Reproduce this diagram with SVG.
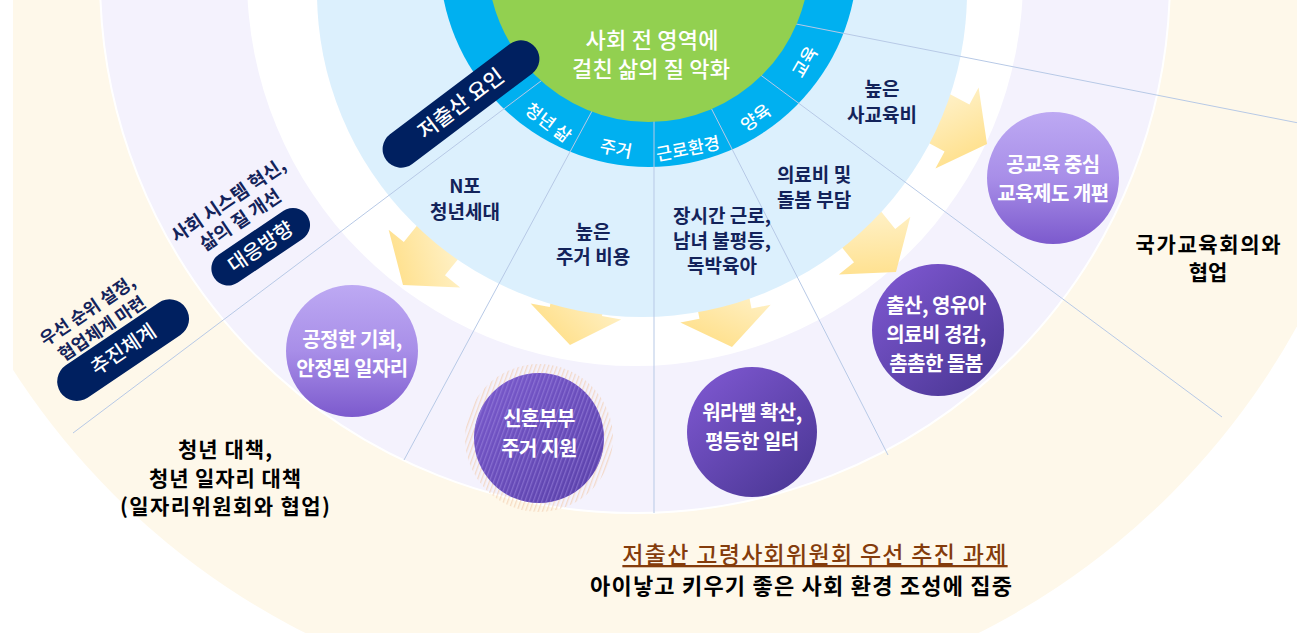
<svg xmlns="http://www.w3.org/2000/svg" width="1297" height="633" viewBox="0 0 1297 633">
<defs>
<style>
text{font-family:"Noto Sans CJK KR","Noto Sans",sans-serif}
.ring{font-size:17.5px;fill:#fff;font-weight:500;text-anchor:middle}
.cause{font-size:19px;fill:#13235a;font-weight:700;text-anchor:middle}
.circ{font-size:20px;fill:#fff;font-weight:700;text-anchor:middle;letter-spacing:-0.5px}
.side{font-size:18.5px;fill:#13235a;font-weight:700;text-anchor:middle}
.pilltxt{font-size:20px;fill:#fff;font-weight:500;text-anchor:middle}
.blk{font-size:21px;fill:#000;font-weight:700;text-anchor:middle}
.rad{stroke:#b7c9e6;stroke-width:1;fill:none}
.pill{fill:#002060}
.arrow{fill:url(#gArrow)}
</style>
<clipPath id="clipL"><rect x="13" y="0" width="1284" height="633"/></clipPath>
<linearGradient id="gArrow" x1="0.2" y1="0" x2="1" y2="0.7">
<stop offset="0" stop-color="#FFF4D2"/><stop offset="1" stop-color="#FFDF88"/>
</linearGradient>
<linearGradient id="gLight" x1="0" y1="0" x2="0" y2="1">
<stop offset="0" stop-color="#BDA9F3"/><stop offset="0.5" stop-color="#A88EE8"/><stop offset="1" stop-color="#7C5ACD"/>
</linearGradient>
<linearGradient id="gDark" x1="0.15" y1="0.1" x2="0.9" y2="0.95">
<stop offset="0" stop-color="#7A55CC"/><stop offset="1" stop-color="#4B3795"/>
</linearGradient>
<linearGradient id="gMid" x1="0.15" y1="0.1" x2="0.9" y2="0.95">
<stop offset="0" stop-color="#7657C9"/><stop offset="1" stop-color="#5A41AA"/>
</linearGradient>
<pattern id="hatchP" width="4" height="4" patternUnits="userSpaceOnUse" patternTransform="rotate(20)">
<rect x="0" y="0" width="1.3" height="4" fill="#9E87E0" fill-opacity="0.55"/>
</pattern>
<pattern id="hatchO" width="4" height="4" patternUnits="userSpaceOnUse" patternTransform="rotate(20)">
<rect x="0" y="0" width="1.3" height="4" fill="#F2C9A8" fill-opacity="0.6"/>
</pattern>
<path id="arr" d="M-40,-26.5 L0,-26.5 L0,-46 L34,0 L0,46 L0,26.5 L-40,26.5 Z"/>
</defs>

<g id="background">
<circle cx="642" cy="-35" r="748" fill="#FEF8EA" clip-path="url(#clipL)"/>
<circle cx="635" cy="-22" r="535" fill="#F4F2FD" stroke="#FFFFFF" stroke-width="2"/>
<circle cx="635" cy="-22" r="388" fill="#FFFFFF"/>
</g>

<g id="arrows">
<use href="#arr" class="arrow" transform="translate(424.4,258.6) rotate(129)"/>
<use href="#arr" class="arrow" transform="translate(575.9,311.5) rotate(100)"/>
<use href="#arr" class="arrow" transform="translate(725.5,313.6) rotate(79)"/>
<use href="#arr" class="arrow" transform="translate(874.6,245.6) rotate(51)"/>
<use href="#arr" class="arrow" transform="translate(957,128) rotate(28)"/>
</g>

<g id="causes-area">
<circle cx="642" cy="-8" r="325" fill="#DCF0FD"/>
<circle cx="648.5" cy="-42" r="209" fill="#00B0F0"/>
</g>

<g id="connectors">
<line class="rad" x1="654" y1="-4" x2="73" y2="433"/>
<line class="rad" x1="654" y1="-4" x2="404" y2="460"/>
<line class="rad" x1="654" y1="-4" x2="654" y2="513"/>
<line class="rad" x1="654" y1="-4" x2="888" y2="455"/>
<line class="rad" x1="654" y1="-4" x2="1297" y2="122.7"/>
<line class="rad" x1="654" y1="-4" x2="1222" y2="417"/>
</g>

<g id="core">
<circle cx="648.5" cy="-39" r="161" fill="#92D050"/>
<text x="652" y="48" textLength="133" style="font-size:22px;fill:#fff;font-weight:500;text-anchor:middle">사회 전 영역에</text>
<text x="651" y="77" textLength="158" style="font-size:22px;fill:#fff;font-weight:500;text-anchor:middle">걸친 삶의 질 악화</text>
</g>

<g id="ring-labels">
<text class="ring" transform="translate(548,123) rotate(37)" y="6">청년 삶</text>
<text class="ring" transform="translate(616,149) rotate(11)" y="6">주거</text>
<text class="ring" transform="translate(688,149) rotate(-11)" y="6">근로환경</text>
<text class="ring" transform="translate(756,118) rotate(-36)" y="6">양육</text>
<text class="ring" transform="translate(805,62) rotate(-60)" y="6">교육</text>
</g>

<g id="pill-factor" transform="translate(461,104) rotate(-37)">
<rect class="pill" x="-93.5" y="-18.5" width="187" height="37" rx="18.5"/>
<text class="pilltxt" x="0" y="7" style="font-size:21px">저출산 요인</text>
</g>

<g id="cause-youth">
<text class="cause" x="465" y="193">N포</text>
<text class="cause" x="465" y="219">청년세대</text>
</g>
<g id="cause-housing">
<text class="cause" x="593" y="239">높은</text>
<text class="cause" x="593" y="264">주거 비용</text>
</g>
<g id="cause-work">
<text class="cause" x="722" y="223">장시간 근로,</text>
<text class="cause" x="722" y="248">남녀 불평등,</text>
<text class="cause" x="722" y="273">독박육아</text>
</g>
<g id="cause-care">
<text class="cause" x="814" y="182">의료비 및</text>
<text class="cause" x="814" y="207">돌봄 부담</text>
</g>
<g id="cause-edu">
<text class="cause" x="882" y="96">높은</text>
<text class="cause" x="882" y="122">사교육비</text>
</g>

<g id="direction" transform="translate(228,200) rotate(-34)">
<text class="side" x="0" y="7">사회 시스템 혁신,</text>
<text class="side" x="-1" y="30">삶의 질 개선</text>
<rect class="pill" x="-55" y="40" width="112" height="34" rx="17"/>
<text class="pilltxt" x="1" y="64">대응방향</text>
</g>

<g id="system" transform="translate(87,310) rotate(-34)">
<text class="side" x="0" y="7" style="font-size:17.5px">우선 순위 설정,</text>
<text class="side" x="2" y="30" style="font-size:17.5px">협업체계 마련</text>
<rect class="pill" x="-68" y="34" width="151" height="39" rx="19.5"/>
<text class="pilltxt" x="8" y="60">추진체계</text>
</g>

<g id="policy-jobs">
<circle cx="352" cy="351" r="66" fill="url(#gLight)"/>
<text class="circ" x="352" y="347">공정한 기회,</text>
<text class="circ" x="352" y="376">안정된 일자리</text>
</g>
<g id="policy-housing">
<circle cx="539" cy="438" r="74" fill="url(#hatchO)"/>
<circle cx="539" cy="438" r="65" fill="url(#gMid)"/>
<circle cx="539" cy="438" r="65" fill="url(#hatchP)"/>
<text class="circ" x="539" y="426">신혼부부</text>
<text class="circ" x="539" y="456">주거 지원</text>
</g>
<g id="policy-work">
<circle cx="752" cy="432" r="65" fill="url(#gDark)"/>
<text class="circ" x="752" y="420">워라밸 확산,</text>
<text class="circ" x="752" y="449">평등한 일터</text>
</g>
<g id="policy-care">
<circle cx="938" cy="330" r="66" fill="url(#gDark)"/>
<text class="circ" x="936" y="313">출산, 영유아</text>
<text class="circ" x="936" y="342">의료비 경감,</text>
<text class="circ" x="936" y="371">촘촘한 돌봄</text>
</g>
<g id="policy-edu">
<circle cx="1053" cy="178" r="66" fill="url(#gLight)"/>
<text class="circ" x="1053" y="172">공교육 중심</text>
<text class="circ" x="1053" y="201">교육제도 개편</text>
</g>

<g id="collab-youth">
<text class="blk" x="225" y="457" textLength="94">청년 대책,</text>
<text class="blk" x="225" y="486" textLength="152">청년 일자리 대책</text>
<text class="blk" x="225" y="514" textLength="210">(일자리위원회와 협업)</text>
</g>
<g id="collab-edu">
<text class="blk" x="1208" y="252" textLength="145">국가교육회의와</text>
<text class="blk" x="1208" y="280">협업</text>
</g>
<g id="footer">
<text x="815" y="563" style="font-size:23px;letter-spacing:1.3px;fill:#843C0C;font-weight:500;text-anchor:middle;text-decoration:underline">저출산 고령사회위원회 우선 추진 과제</text>
<text x="801" y="594" textLength="422" style="font-size:22px;fill:#000;font-weight:700;text-anchor:middle">아이낳고 키우기 좋은 사회 환경 조성에 집중</text>
</g>
</svg>
